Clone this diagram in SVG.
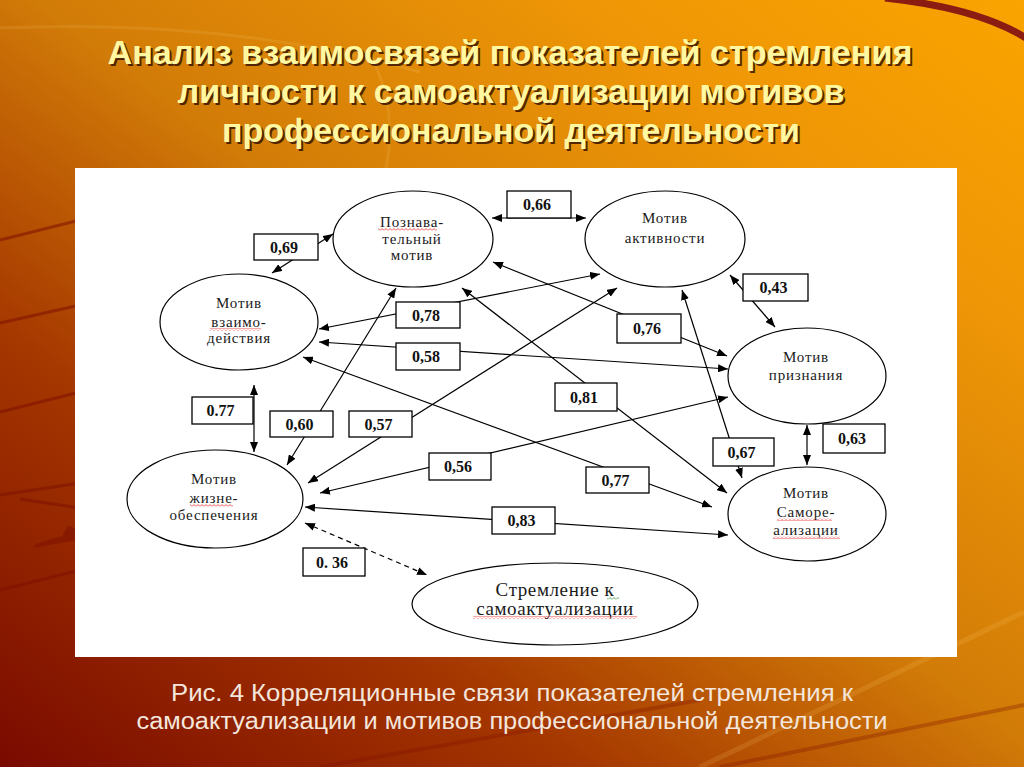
<svg xmlns="http://www.w3.org/2000/svg" width="1024" height="767" viewBox="0 0 1024 767">
<defs>
  <linearGradient id="bg" x1="0" y1="1" x2="1" y2="0">
    <stop offset="0" stop-color="#7A0A00"/>
    <stop offset="0.28" stop-color="#A43600"/>
    <stop offset="0.52" stop-color="#D27C08"/>
    <stop offset="0.78" stop-color="#EE9606"/>
    <stop offset="1" stop-color="#F9A400"/>
  </linearGradient>
  <marker id="ah" viewBox="0 0 10 8" refX="10" refY="4" markerWidth="10" markerHeight="8" markerUnits="userSpaceOnUse" orient="auto-start-reverse">
    <path d="M0,0 L10,4 L0,8 z" fill="#000"/>
  </marker>
  <pattern id="wr" width="4" height="3" patternUnits="userSpaceOnUse">
    <path d="M0,2.5 L2,0.5 L4,2.5" fill="none" stroke="#E02020" stroke-width="0.8"/>
  </pattern>
  <pattern id="wg" width="4" height="3" patternUnits="userSpaceOnUse">
    <path d="M0,2.5 L2,0.5 L4,2.5" fill="none" stroke="#2E9E2E" stroke-width="0.8"/>
  </pattern>
</defs>
<style>
  .nd ellipse { fill:#fff; stroke:#000; stroke-width:1.2; }
  .nt { font-family:"Liberation Serif","Times New Roman",serif; font-size:15px; fill:#1a1a1a; text-anchor:middle; letter-spacing:0.8px; }
  .cn { stroke:#000; stroke-width:1.2; fill:none; marker-start:url(#ah); marker-end:url(#ah); }
  .lb rect { fill:#fff; stroke:#000; stroke-width:1.3; }
  .lt { font-family:"Liberation Serif","Times New Roman",serif; font-weight:bold; font-size:16px; text-anchor:middle; fill:#111; }
  .ttl { font-family:"Liberation Sans Narrow","Liberation Sans",Arial,sans-serif; font-weight:bold; font-size:34px; text-anchor:middle; }
  .cap { font-family:"Liberation Sans Narrow","Liberation Sans",Arial,sans-serif; font-size:23px; text-anchor:middle; fill:#F4E6DC; }
  .st { fill:none; stroke:#7E1000; stroke-width:3; opacity:0.55; }
</style>

<!-- background -->
<rect x="0" y="0" width="1024" height="767" fill="url(#bg)"/>
<path d="M0,28 Q230,18 420,72" fill="none" stroke="#FFE080" stroke-width="3" opacity="0.12"/>
<path d="M372,58 Q398,110 386,168" fill="none" stroke="#FFE080" stroke-width="3" opacity="0.12"/>
<path d="M885,-2 Q978,8 1026,38" fill="none" stroke="#8A1C12" stroke-width="7"/>
<line class="st" x1="0" y1="240" x2="80" y2="220"/>
<line class="st" x1="0" y1="323" x2="80" y2="305"/>
<line class="st" x1="0" y1="412" x2="80" y2="392"/>
<line class="st" x1="0" y1="495" x2="80" y2="483"/>
<line class="st" x1="20" y1="499" x2="80" y2="508"/>
<line class="st" x1="0" y1="590" x2="80" y2="570"/>
<path d="M33,548 L78,540 L78,530 L68,525 L62,536 L36,544 z" fill="#7E1000" opacity="0.55"/>
<line x1="320" y1="767" x2="700" y2="700" stroke="#801000" stroke-width="4" opacity="0.3"/>
<line x1="720" y1="767" x2="1024" y2="705" stroke="#801000" stroke-width="4" opacity="0.3"/>
<line x1="700" y1="767" x2="1024" y2="612" stroke="#FFD070" stroke-width="5" opacity="0.15"/>

<!-- title -->
<g id="title">
  <g fill="#3A1500" opacity="0.85" transform="translate(2,2)">
    <text class="ttl" x="510" y="64" textLength="805" lengthAdjust="spacingAndGlyphs">Анализ взаимосвязей показателей стремления</text>
    <text class="ttl" x="511" y="103" textLength="667" lengthAdjust="spacingAndGlyphs">личности к самоактуализации мотивов</text>
    <text class="ttl" x="511" y="142" textLength="578" lengthAdjust="spacingAndGlyphs">профессиональной деятельности</text>
  </g>
  <g fill="#FFF8A0">
    <text class="ttl" x="510" y="64" textLength="805" lengthAdjust="spacingAndGlyphs">Анализ взаимосвязей показателей стремления</text>
    <text class="ttl" x="511" y="103" textLength="667" lengthAdjust="spacingAndGlyphs">личности к самоактуализации мотивов</text>
    <text class="ttl" x="511" y="142" textLength="578" lengthAdjust="spacingAndGlyphs">профессиональной деятельности</text>
  </g>
</g>

<!-- white panel -->
<rect x="75" y="168" width="882" height="489" fill="#fff"/>

<!-- nodes -->
<g id="n-poznav" class="nd">
  <ellipse cx="413" cy="239" rx="80" ry="48"/>
  <text class="nt" x="412" y="227">Познава-</text>
  <text class="nt" x="412" y="244">тельный</text>
  <text class="nt" x="412" y="260">мотив</text>
  <rect x="378" y="228" width="59" height="3" fill="url(#wr)" stroke="none"/>
</g>
<g id="n-aktiv" class="nd">
  <ellipse cx="665" cy="239" rx="80" ry="48"/>
  <text class="nt" x="665" y="223">Мотив</text>
  <text class="nt" x="665" y="243">активности</text>
</g>
<g id="n-vzaim" class="nd">
  <ellipse cx="239" cy="322" rx="79" ry="48"/>
  <text class="nt" x="239" y="308">Мотив</text>
  <text class="nt" x="239" y="327">взаимо-</text>
  <text class="nt" x="239" y="343">действия</text>
  <rect x="210" y="328" width="51" height="3" fill="url(#wr)" stroke="none"/>
</g>
<g id="n-priznan" class="nd">
  <ellipse cx="807" cy="376" rx="79" ry="48"/>
  <text class="nt" x="806" y="362">Мотив</text>
  <text class="nt" x="806" y="380">признания</text>
</g>
<g id="n-samoreal" class="nd">
  <ellipse cx="807" cy="514" rx="79" ry="47"/>
  <text class="nt" x="806" y="498">Мотив</text>
  <text class="nt" x="806" y="517">Саморе-</text>
  <text class="nt" x="806" y="535">ализации</text>
  <rect x="777" y="518" width="55" height="3" fill="url(#wr)" stroke="none"/>
  <rect x="773" y="536" width="67" height="3" fill="url(#wr)" stroke="none"/>
</g>
<g id="n-zhizn" class="nd">
  <ellipse cx="215" cy="499" rx="88" ry="49"/>
  <text class="nt" x="214" y="484">Мотив</text>
  <text class="nt" x="214" y="503">жизне-</text>
  <text class="nt" x="214" y="520">обеспечения</text>
  <rect x="190" y="504" width="43" height="3" fill="url(#wr)" stroke="none"/>
</g>
<g id="n-stremlenie" class="nd">
  <ellipse cx="555" cy="604" rx="143" ry="41"/>
  <text class="nt" x="555" y="596" style="font-size:19px;letter-spacing:0.6px">Стремление к</text>
  <text class="nt" x="555" y="615" style="font-size:19px;letter-spacing:0.6px">самоактуализации</text>
  <rect x="607" y="597" width="12" height="3" fill="url(#wg)" stroke="none"/>
  <rect x="473" y="616" width="164" height="3" fill="url(#wr)" stroke="none"/>
</g>

<!-- connectors -->
<g id="connectors">
  <line class="cn" x1="272" y1="273" x2="333" y2="234"/>
  <line class="cn" x1="492" y1="218" x2="586" y2="218"/>
  <line class="cn" x1="319" y1="329" x2="600" y2="274"/>
  <line class="cn" x1="319" y1="342" x2="728" y2="369"/>
  <line class="cn" x1="493" y1="262" x2="727" y2="356"/>
  <line class="cn" x1="462" y1="288" x2="727" y2="493"/>
  <line class="cn" x1="287" y1="465" x2="396" y2="288"/>
  <line class="cn" x1="308" y1="483" x2="617" y2="288"/>
  <line class="cn" x1="320" y1="493" x2="728" y2="397"/>
  <line class="cn" x1="303" y1="357" x2="712" y2="507"/>
  <line class="cn" x1="305" y1="507" x2="728" y2="535"/>
  <line class="cn" x1="682" y1="290" x2="742" y2="478"/>
  <line class="cn" x1="730" y1="275" x2="775" y2="327"/>
  <line class="cn" x1="807" y1="425" x2="807" y2="465"/>
  <line class="cn" x1="254" y1="385" x2="254" y2="452"/>
  <line class="cn" x1="305" y1="523" x2="427" y2="575" stroke-dasharray="5,4"/>
</g>

<!-- connector labels -->
<g id="labels" class="lb">
  <rect x="254" y="234" width="64" height="26"/><text class="lt" x="284" y="252.5">0,69</text>
  <rect x="507" y="191" width="64" height="27"/><text class="lt" x="537" y="210">0,66</text>
  <rect x="396" y="302" width="64" height="26"/><text class="lt" x="426" y="320.5">0,78</text>
  <rect x="396" y="343" width="64" height="27"/><text class="lt" x="426" y="362">0,58</text>
  <rect x="617" y="314" width="64" height="29"/><text class="lt" x="647" y="334">0,76</text>
  <rect x="555" y="383" width="62" height="28"/><text class="lt" x="584" y="402.5">0,81</text>
  <rect x="270" y="411" width="63" height="26"/><text class="lt" x="299.5" y="429.5">0,60</text>
  <rect x="349" y="411" width="63" height="26"/><text class="lt" x="378.5" y="429.5">0,57</text>
  <rect x="429" y="453" width="62" height="27"/><text class="lt" x="458" y="472">0,56</text>
  <rect x="586" y="467" width="63" height="26"/><text class="lt" x="615.5" y="485.5">0,77</text>
  <rect x="492" y="507" width="63" height="27"/><text class="lt" x="521.5" y="526">0,83</text>
  <rect x="713" y="438" width="61" height="28"/><text class="lt" x="741.5" y="457.5">0,67</text>
  <rect x="743" y="274" width="65" height="27"/><text class="lt" x="773.5" y="293">0,43</text>
  <rect x="823" y="424" width="62" height="29"/><text class="lt" x="852" y="444">0,63</text>
  <rect x="192" y="397" width="61" height="27"/><text class="lt" x="220.5" y="416">0.77</text>
  <rect x="303" y="548" width="62" height="28"/><text class="lt" x="332" y="567.5">0. 36</text>
</g>

<!-- caption -->
<g id="caption">
  <text class="cap" x="512" y="701" textLength="682" lengthAdjust="spacingAndGlyphs">Рис. 4 Корреляционные связи показателей стремления к</text>
  <text class="cap" x="512" y="729" textLength="751" lengthAdjust="spacingAndGlyphs">самоактуализации и мотивов профессиональной деятельности</text>
</g>
</svg>
